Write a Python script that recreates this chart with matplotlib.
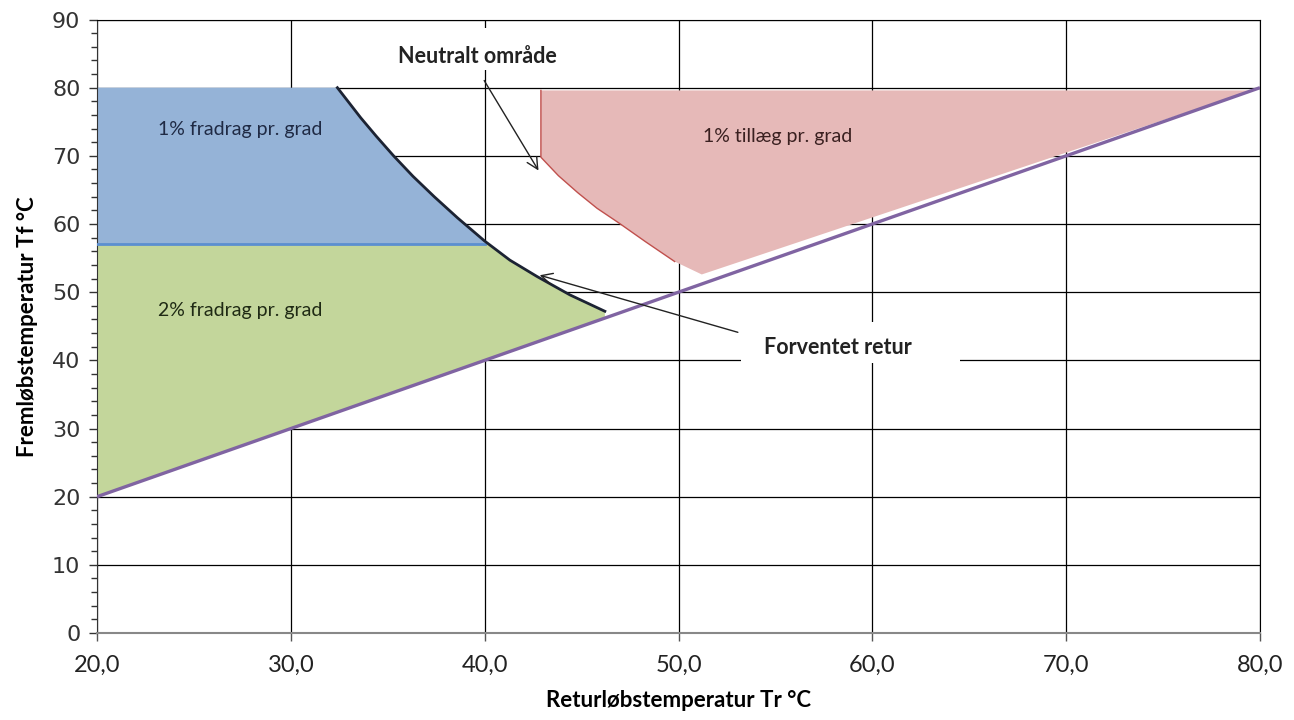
import matplotlib
matplotlib.use('Agg')
import matplotlib.pyplot as plt
from matplotlib.patches import Polygon, Rectangle
from matplotlib.ticker import MultipleLocator, FuncFormatter

# (returtemp Tr, fremtemp Tf)
forventet_x = [32.4, 33.0, 33.6, 34.4, 35.3, 36.3, 37.4, 38.6, 40.0, 41.3, 42.7, 44.4, 46.2]
forventet_y = [80.0, 77.8, 75.6, 72.9, 70.0, 67.0, 64.0, 60.9, 57.5, 54.7, 52.3, 49.6, 47.2]

graense_y = 57.0          # skille mellem 1% og 2% fradrag
top_y = 80.0

tillaeg_x = [42.9, 42.9, 43.8, 44.8, 45.8, 46.9, 48.3, 49.8]
tillaeg_y = [79.6, 69.8, 67.1, 64.6, 62.3, 60.2, 57.4, 54.5]
tillaeg_bund_x = [51.2, 79.6]
tillaeg_bund_y = [52.6, 79.6]

diag_x = [20, 80]
diag_y = [20, 80]

xticks = [20, 30, 40, 50, 60, 70, 80]
yticks = [0, 10, 20, 30, 40, 50, 60, 70, 80, 90]

fig = plt.figure(figsize=(12.94, 7.2), dpi=100)
ax = fig.add_axes([0.075, 0.1208, 0.8987, 0.8521])
ax.set_xlim(20, 80)
ax.set_ylim(0, 90)

# grid under everything
ax.set_axisbelow(True)
ax.grid(True, which='major', color='black', linewidth=0.9)

# blue region (1% fradrag)
blue = [(20, top_y)] + [(x, y) for x, y in zip(forventet_x, forventet_y) if x <= 40.0] + [(40.0, graense_y), (20, graense_y)]
ax.add_patch(Polygon(blue, closed=True, facecolor='#95B3D7', edgecolor='none', zorder=2))

# green region (2% fradrag)
green = [(20, graense_y), (40.0, graense_y)] + [(x, y) for x, y in zip(forventet_x, forventet_y) if x >= 40.0] \
    + [(forventet_x[-1], forventet_x[-1]), (20, 20)]
ax.add_patch(Polygon(green, closed=True, facecolor='#C3D69B', edgecolor='none', zorder=2))

# pink region (1% tillaeg)
pink = list(zip(tillaeg_x, tillaeg_y)) + list(zip(tillaeg_bund_x, tillaeg_bund_y))
ax.add_patch(Polygon(pink, closed=True, facecolor='#E6B9B8', edgecolor='none', zorder=2))
ax.plot(tillaeg_x, tillaeg_y, color='#C0504D', linewidth=1.0, zorder=3)

# line between blue and green
ax.plot([20, 40], [graense_y, graense_y], color='#5B8FD0', linewidth=2.0, zorder=3)

# expected return curve
ax.plot(forventet_x, forventet_y, color='#1C2333', linewidth=2.0, zorder=4, solid_joinstyle='round')

# diagonal Tf = Tr
ax.plot(diag_x, diag_y, color='#8064A2', linewidth=2.4, zorder=4, solid_capstyle='butt')

# region labels
lab_font = dict(family='Lato', fontsize=14, ha='center', va='center', zorder=6)
ax.text(27.4, 73.9, '1% fradrag pr. grad', color='#1F2A44', **lab_font)
ax.text(27.4, 47.3, '2% fradrag pr. grad', color='#1F2A14', **lab_font)
ax.text(55.1, 72.8, '1% tillæg pr. grad', color='#3A2020', **lab_font)

# callouts
ax.add_patch(Rectangle((35.5, 82.6), 8.5, 6.2, facecolor='white', edgecolor='none', zorder=5))
ax.text(39.6, 84.6, 'Neutralt område', family='Lato', fontweight='bold', fontsize=15.5,
        ha='center', va='center', color='#222222', zorder=6)
ax.annotate('', xy=(42.85, 67.5), xytext=(39.9, 81.4),
            arrowprops=dict(arrowstyle='->', color='#222222', lw=1.0, mutation_scale=20), zorder=6)

ax.add_patch(Rectangle((53.2, 39.6), 11.3, 6.0, facecolor='white', edgecolor='none', zorder=5))
ax.text(58.2, 41.9, 'Forventet retur', family='Lato', fontweight='bold', fontsize=15.5,
        ha='center', va='center', color='#222222', zorder=6)
ax.annotate('', xy=(42.7, 52.6), xytext=(53.2, 44.0),
            arrowprops=dict(arrowstyle='->', color='#222222', lw=1.0, mutation_scale=20), zorder=6)

# axes and ticks
ax.set_xticks(xticks)
ax.set_yticks(yticks)
ax.yaxis.set_minor_locator(MultipleLocator(2))
ax.xaxis.set_major_formatter(FuncFormatter(lambda v, p: ('%.1f' % v).replace('.', ',')))
ax.tick_params(axis='y', which='major', direction='out', length=6, width=1, colors='#333333', labelsize=16, pad=6)
ax.tick_params(axis='y', which='minor', direction='out', length=4, width=1, colors='#333333')
ax.tick_params(axis='x', which='major', direction='out', length=6, width=1, colors='#555555', labelsize=17, pad=10)
for lab in ax.get_xticklabels():
    lab.set_family('Lato')
    lab.set_color('#222222')
for lab in ax.get_yticklabels():
    lab.set_family('DejaVu Sans')
    lab.set_color('#333333')

ax.spines['left'].set_color('#333333')
ax.spines['bottom'].set_color('#888888')
ax.spines['bottom'].set_linewidth(1.5)
ax.spines['top'].set_color('black')
ax.spines['right'].set_color('black')

ax.set_xlabel('Returløbstemperatur Tr °C', family='Lato', fontweight='bold', fontsize=16, labelpad=10)
ax.set_ylabel('Fremløbstemperatur Tf °C', family='Lato', fontweight='bold', fontsize=16, labelpad=10)

fig.savefig('out.png', dpi=100)
